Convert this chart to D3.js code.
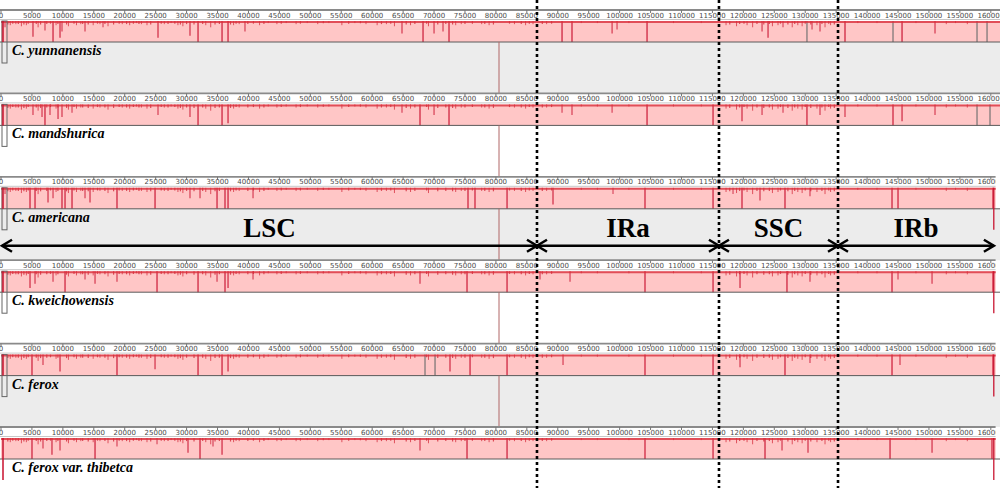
<!DOCTYPE html>
<html>
  <head>
    <script src="https://d3js.org/d3.v7.min.js"></script>
    <style>
      body { margin: 0; background: white; }
      svg { display: block; }
    </style>
  </head>
  <body>
    <script>
      // ---- data ----
      const speciesNames = ['C. yunnanensis', 'C. mandshurica', 'C. americana',
                            'C. kweichowensis', 'C. ferox', 'C. ferox var. thibetca'];
      const genomeLengths = [162600, 162600, 160800, 160800, 160800, 160800];
      const tickValues = [0, 5000, 10000, 15000, 20000, 25000, 30000, 35000, 40000, 45000,
                          50000, 55000, 60000, 65000, 70000, 75000, 80000, 85000, 90000,
                          95000, 100000, 105000, 110000, 115000, 120000, 125000, 130000,
                          135000, 140000, 145000, 150000, 155000, 160000];
      const regionNames = ['LSC', 'IRa', 'SSC', 'IRb'];
      const regionBounds = [0, 86640, 116060, 135300, 160500];
      const connectorPos = 80500;

      // [position, depth 0..1, grey flag]
      const spikesYunnanensis = [[650,0.3],[5170,0.75],[7110,0.45],[8410,1],[9540,0.8],[9860,0.5],
        [13580,0.5],[16490,0.3],[25380,0.8],[30550,0.7],[31850,1],[35730,1],[36700,1],[39440,0.5],
        [64820,0.6],[68220,1],[70000,0.6],[71450,0.5],[72420,1],[90690,1],[92300,1],[98780,0.6],
        [99580,0.4],[104430,1],[123020,0.5],[123990,0.8],[126410,0.3],[130280,1,1],[131100,0.4],
        [132390,0.5],[136430,1],[144190,1,1],[145650,1],[150980,0.6],[157770,1,1],[159390,1,1]];
      const spikesMandshurica = [[5170,0.5],[6630,0.6],[7110,1],[7920,0.5],[9220,0.7],[9860,0.6],
        [11480,0.4],[25380,0.5],[30550,0.6],[31850,1],[35730,1],[36700,0.9],[64820,0.4],[67730,1],
        [70000,0.5],[72420,1],[90690,0.4],[92300,0.5],[98780,0.4],[104430,1],[115100,1],[119780,0.8],
        [123020,0.5],[126410,0.4],[130280,1],[132390,0.5],[136430,0.6],[144190,1],[145650,0.8],
        [150980,0.5],[157770,1,1],[159870,1,1]];
      const spikesAmericana = [[650,0.3],[4690,1],[5500,1],[7600,0.7],[8410,0.5],[9860,1],[10350,1],
        [11480,1],[13580,0.5],[14390,0.7],[18750,1],[24900,1],[30550,0.5],[32170,0.5],[34920,1],
        [36210,1],[36700,1],[40740,0.5],[75490,1],[76620,1],[81800,1],[89230,0.8],[98930,0.3],
        [104100,1],[115100,1],[118330,0.3],[119780,1],[122690,0.6],[126730,1],[130770,0.4],
        [144030,1],[145000,1],[160350,1]];
      const spikesKweichowensis = [[4690,0.8],[5500,0.6],[8410,0.5],[10350,1],[13580,0.4],[15200,0.6],
        [18750,0.5],[25220,1],[31850,1],[34920,0.5],[36210,1],[36700,0.8],[40740,0.4],[67730,0.6],
        [75330,1],[81800,1],[87130,0.4],[91980,0.5],[104100,1],[115100,1],[119460,0.8],[127050,1],
        [130770,0.5],[144030,1],[145000,0.4],[150500,0.6],[160350,1]];
      const spikesFerox = [[5010,1],[6790,0.5],[9540,0.8],[18750,1],[24900,0.7],[31850,1],[35730,1],
        [36700,0.8],[68540,1,1],[70160,1,1],[72580,0.8],[75820,1],[81800,1],[90850,0.5],[104100,1],
        [115100,1],[119460,0.6],[126730,1],[130770,0.4],[144030,1],[145320,0.5],[160350,1]];
      const spikesThibetca = [[5010,1],[6790,0.5],[8240,0.8],[9540,0.6],[15200,1],[18750,0.4],
        [25220,0.3],[30230,0.7],[32170,1],[34270,0.4],[35730,0.8],[67730,0.6],[75330,1],[81800,1],
        [104100,1],[115100,1],[123500,1],[126250,0.6],[130450,0.7],[143710,1],[150500,0.7],[160190,1]];
      const minorSpikes = [[1500,0.2],[2400,0.15],[3300,0.25],[4100,0.2],[6000,0.3],[8900,0.2],
        [10900,0.25],[12200,0.2],[12900,0.15],[14900,0.2],[16000,0.15],[17300,0.25],[19600,0.15],
        [20800,0.2],[21900,0.1],[22700,0.15],[23600,0.2],[26400,0.15],[27500,0.1],[28600,0.2],
        [29400,0.25],[33100,0.2],[33900,0.3],[37600,0.2],[38500,0.15],[41800,0.2],[43200,0.1],
        [44600,0.15],[46100,0.1],[47700,0.15],[49500,0.1],[51200,0.15],[53000,0.1],[55100,0.2],
        [57200,0.1],[59000,0.15],[60800,0.2],[62300,0.15],[63600,0.25],[66200,0.2],[69100,0.25],
        [73500,0.2],[74400,0.15],[77700,0.15],[78900,0.2],[83000,0.15],[84800,0.2],[86000,0.15],
        [88200,0.15],[93800,0.1],[96400,0.1],[101500,0.1],[108700,0.1],[113200,0.1],[117200,0.2],
        [118900,0.25],[120600,0.2],[121500,0.3],[124700,0.25],[125600,0.2],[127900,0.3],
        [128800,0.2],[129500,0.25],[131900,0.2],[133200,0.3],[134100,0.2],[138500,0.1],
        [141600,0.1],[147900,0.1],[152800,0.15],[154300,0.1],[156200,0.15]];
      const faintSpikes = [[1100,0.12],[1900,0.08],[2800,0.1],[3700,0.12],[4400,0.08],[5700,0.1],
        [6400,0.12],[7400,0.1],[8000,0.08],[9200,0.1],[10600,0.12],[11800,0.08],[13200,0.1],
        [14100,0.12],[15600,0.08],[16800,0.1],[18200,0.12],[19100,0.08],[20300,0.1],[21400,0.08],
        [22300,0.1],[24200,0.12],[25900,0.08],[27000,0.1],[28100,0.08],[29000,0.12],[30000,0.1],
        [31200,0.12],[32600,0.1],[34600,0.12],[35300,0.1],[37100,0.12],[38000,0.08],[39900,0.1],
        [40800,0.08],[42500,0.1],[45300,0.08],[48400,0.08],[52100,0.06],[56200,0.08],[58100,0.06],
        [61500,0.1],[63000,0.08],[65500,0.12],[66900,0.1],[68800,0.08],[70600,0.12],[71900,0.1],
        [73000,0.12],[75000,0.1],[76200,0.08],[78200,0.1],[79600,0.12],[82200,0.08],[84100,0.1],
        [85400,0.08],[87500,0.1],[89000,0.08],[117800,0.12],[119400,0.1],[120100,0.08],[122200,0.1],
        [123300,0.12],[124200,0.1],[126000,0.08],[127200,0.12],[128300,0.1],[130000,0.08],
        [130900,0.12],[132700,0.1],[133800,0.08],[134700,0.12]];
      const spikeSets = [spikesYunnanensis, spikesMandshurica, spikesAmericana,
                         spikesKweichowensis, spikesFerox, spikesThibetca];

      // ---- layout ----
      const width = 1000, height = 488;
      const top0 = 10, step = 83.4, rulerH = 10, pinkOff = 11, pinkH = 21;

      const x = d3.scaleLinear().domain([0, 161000]).range([1, 997]);

      const svg = d3.select('body').append('svg')
        .attr('width', width).attr('height', height);

      speciesNames.forEach((name, i) => {
        const top = top0 + i * step;
        const pinkTop = top + pinkOff;
        const pinkBot = pinkTop + pinkH;
        const g = svg.append('g');
        const endX = Math.min(x(genomeLengths[i]), width);

        // lower background (grey for every other panel)
        if (i % 2 === 0) {
          g.append('rect').attr('x', 0).attr('y', pinkBot)
            .attr('width', width).attr('height', top + step - pinkBot)
            .attr('fill', '#ececec');
        }

        // ruler
        const clipId = 'clip' + i;
        svg.append('clipPath').attr('id', clipId)
          .append('rect').attr('x', 0).attr('y', top - 2).attr('width', endX).attr('height', rulerH + 4);
        const ruler = g.append('g').attr('clip-path', `url(#${clipId})`);
        ruler.append('rect').attr('x', 0).attr('y', top).attr('width', endX).attr('height', rulerH)
          .attr('fill', 'white');
        ruler.append('line').attr('x1', 0).attr('x2', endX).attr('y1', top).attr('y2', top)
          .attr('stroke', '#8a8a8a').attr('stroke-width', 1.8);
        ruler.append('line').attr('x1', 0).attr('x2', endX).attr('y1', top + rulerH - 0.5).attr('y2', top + rulerH - 0.5)
          .attr('stroke', '#c8c8c8').attr('stroke-width', 1);
        ruler.selectAll('line.tick').data(tickValues).enter().append('line')
          .attr('class', 'tick')
          .attr('x1', d => x(d)).attr('x2', d => x(d))
          .attr('y1', top).attr('y2', top + 3)
          .attr('stroke', '#777').attr('stroke-width', 1);
        ruler.selectAll('text').data(tickValues).enter().append('text')
          .attr('x', d => x(d)).attr('y', top + 7.5)
          .attr('text-anchor', 'middle')
          .style('font-family', 'DejaVu Sans, sans-serif')
          .style('font-size', '7px')
          .style('fill', '#4a4a4a')
          .text(d => d);

        // pink LCB band
        g.append('rect').attr('x', x(0)).attr('y', pinkTop)
          .attr('width', endX - x(0)).attr('height', pinkH)
          .attr('fill', '#ffc6c6');

        // faint + minor similarity dips
        g.selectAll('line.faint').data(faintSpikes).enter().append('line')
          .attr('class', 'faint')
          .attr('x1', d => x(d[0])).attr('x2', d => x(d[0]))
          .attr('y1', pinkTop).attr('y2', d => pinkTop + 1 + d[1] * pinkH)
          .attr('stroke', '#d42a3a').attr('stroke-opacity', 0.8).attr('stroke-width', 1.2);
        g.selectAll('line.minor').data(minorSpikes).enter().append('line')
          .attr('class', 'minor')
          .attr('x1', d => x(d[0])).attr('x2', d => x(d[0]))
          .attr('y1', pinkTop).attr('y2', d => pinkTop + d[1] * pinkH)
          .attr('stroke', '#d42a3a').attr('stroke-opacity', 0.75).attr('stroke-width', 1);

        // major similarity dips
        g.selectAll('line.major').data(spikeSets[i]).enter().append('line')
          .attr('class', 'major')
          .attr('x1', d => x(d[0])).attr('x2', d => x(d[0]))
          .attr('y1', pinkTop).attr('y2', d => pinkTop + d[1] * pinkH)
          .attr('stroke', d => d[2] ? '#6e6e6e' : '#c8102e')
          .attr('stroke-opacity', d => 0.55 + 0.4 * d[1])
          .attr('stroke-width', 1.2);

        // profile top edge
        g.append('line').attr('x1', x(0)).attr('x2', endX).attr('y1', pinkTop + 1).attr('y2', pinkTop + 1)
          .attr('stroke', '#d9303c').attr('stroke-width', 2).attr('stroke-opacity', 0.8);

        // genome centre line
        g.append('line').attr('x1', 0).attr('x2', width).attr('y1', pinkBot).attr('y2', pinkBot)
          .attr('stroke', '#5a5a5a').attr('stroke-width', 1);

        // left block marker
        if (i < 5) {
          g.append('rect').attr('x', 2).attr('y', pinkTop).attr('width', 5).attr('height', 42)
            .attr('fill', 'none').attr('stroke', '#666').attr('stroke-width', 1);
        }
        g.append('line').attr('x1', 3).attr('x2', 3).attr('y1', pinkTop).attr('y2', i < 5 ? pinkBot : pinkTop + 42)
          .attr('stroke', '#c8102e').attr('stroke-width', 1.5);
        if (i >= 2) {
          g.append('line').attr('x1', x(genomeLengths[i]) - 2).attr('x2', x(genomeLengths[i]) - 2)
            .attr('y1', pinkTop).attr('y2', pinkTop + 42)
            .attr('stroke', '#c8102e').attr('stroke-width', 1.5).attr('stroke-opacity', 0.85);
        }

        // connector to next genome
        if (i < 5) {
          g.append('line').attr('x1', x(connectorPos)).attr('x2', x(connectorPos))
            .attr('y1', pinkBot).attr('y2', top + step)
            .attr('stroke', '#b06666').attr('stroke-width', 1);
        }

        // species label
        g.append('text').attr('x', 12).attr('y', top + 45)
          .style('font-family', 'Liberation Serif, Times New Roman, serif')
          .style('font-weight', 'bold').style('font-style', 'italic')
          .style('font-size', '14px').style('fill', 'black')
          .text(name);
      });

      // region arrows
      const arrowY = 245.7;
      const regions = regionNames.map((n, i) => ({ name: n, a: regionBounds[i], b: regionBounds[i + 1] }));
      const ag = svg.append('g').attr('stroke', 'black').attr('stroke-width', 2.5).attr('fill', 'none');
      regions.forEach(r => {
        const xa = r.a === 0 ? 2 : x(r.a);
        const xb = x(r.b);
        ag.append('line').attr('x1', xa).attr('x2', xb).attr('y1', arrowY).attr('y2', arrowY);
        ag.append('path').attr('d', `M${xa + 10},${arrowY - 6}L${xa},${arrowY}L${xa + 10},${arrowY + 6}`);
        ag.append('path').attr('d', `M${xb - 10},${arrowY - 6}L${xb},${arrowY}L${xb - 10},${arrowY + 6}`);
        svg.append('text').attr('x', (xa + xb) / 2).attr('y', 237)
          .attr('text-anchor', 'middle')
          .style('font-family', 'Liberation Serif, Times New Roman, serif')
          .style('font-weight', 'bold').style('font-size', '27px')
          .text(r.name);
      });

      // region boundaries
      svg.selectAll('line.bound').data(regionBounds.slice(1, 4)).enter().append('line')
        .attr('class', 'bound')
        .attr('x1', d => x(d)).attr('x2', d => x(d))
        .attr('y1', 0).attr('y2', height)
        .attr('stroke', 'black').attr('stroke-width', 2.6)
        .attr('stroke-dasharray', '3,3');
    </script>
  </body>
</html>
